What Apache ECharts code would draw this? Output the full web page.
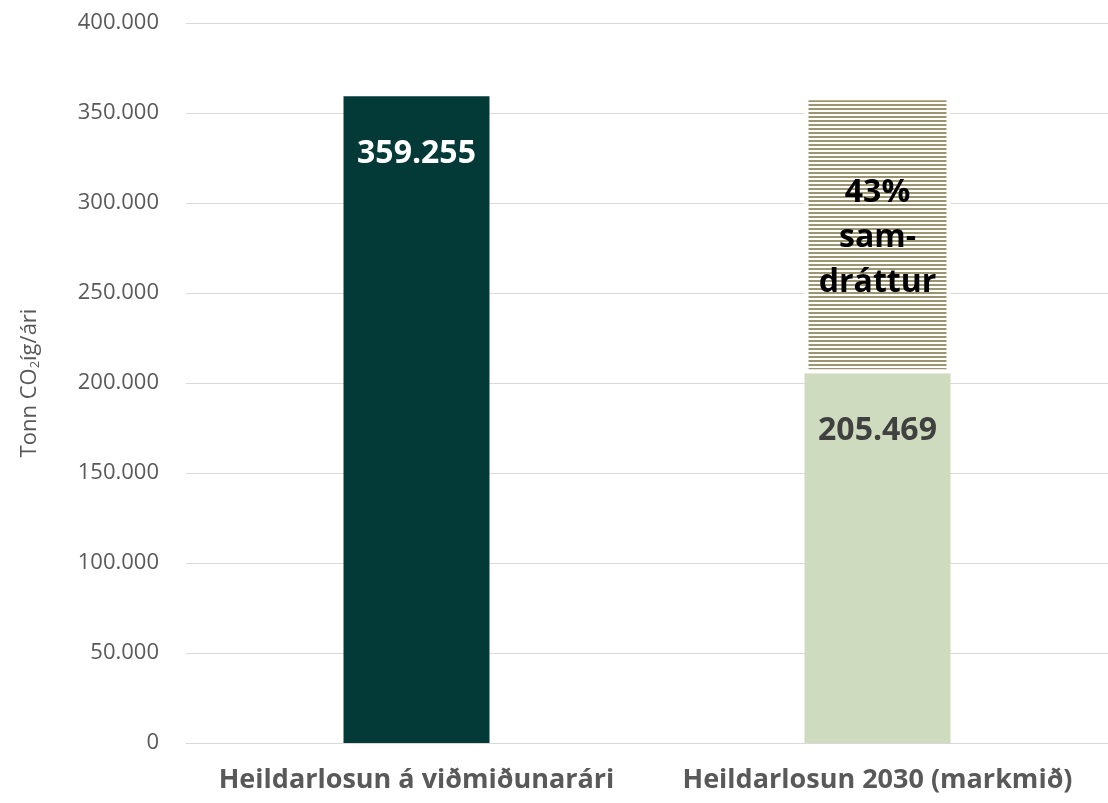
<!DOCTYPE html>
<html>
<head>
<meta charset="utf-8">
<script src="https://cdn.jsdelivr.net/npm/echarts@6/dist/echarts.min.js"></script>
<style>
  html, body { margin: 0; padding: 0; background: #fff; }
  #chart { width: 1108px; height: 803px; }
</style>
</head>
<body>
<div id="chart"></div>
<script>
const categories = ['Heildarlosun á viðmiðunarári', 'Heildarlosun 2030 (markmið)']
const baseValues = [359255, 205469]
const reductionValues = [null, 153786]
const reductionLabel = '43%\nsam-\ndráttur'
const yTicks = [0, 50000, 100000, 150000, 200000, 250000, 300000, 350000, 400000]

const FONT = '"Open Sans", "Noto Sans", sans-serif'

const fmt = (v) => v === 0 ? '0' : v.toLocaleString('de-DE')

// horizontal stripe fill for the reduction bar
const stripe = document.createElement('canvas')
stripe.width = 4
stripe.height = 4
const sctx = stripe.getContext('2d')
sctx.fillStyle = '#ffffff'
sctx.fillRect(0, 0, 4, 4)
sctx.fillStyle = '#9d9570'
sctx.fillRect(0, 0, 4, 2)

const chart = echarts.init(document.getElementById('chart'))
chart.setOption({
    animation: false,
    grid: {left: 186, top: 23, bottom: 60, right: -7},
    xAxis: {
        type: 'category',
        data: categories,
        axisLine: {show: true, lineStyle: {color: '#d9d9d9', width: 1}},
        axisTick: {show: false},
        axisLabel: {
            interval: 0,
            hideOverlap: false,
            color: '#595959', fontFamily: FONT, fontWeight: 'bold', fontSize: 27, margin: 24
        }
    },
    yAxis: {
        type: 'value',
        min: 0,
        max: yTicks[yTicks.length - 1],
        interval: 50000,
        name: '{n|Tonn CO}{s|2}{n|íg/ári}',
        nameLocation: 'middle',
        nameGap: 144,
        nameTextStyle: {
            rich: {
                n: {fontFamily: FONT, fontSize: 22, color: '#595959'},
                s: {fontFamily: FONT, fontSize: 13, color: '#595959', padding: [12, 0, 0, 0]}
            }
        },
        axisLine: {show: false},
        axisTick: {show: false},
        splitLine: {lineStyle: {color: '#d9d9d9', width: 1}},
        axisLabel: {
            color: '#595959', fontFamily: FONT, fontSize: 22, margin: 27,
            formatter: fmt
        }
    },
    series: [
        {
            type: 'bar',
            stack: 'total',
            barWidth: 146,
            data: baseValues.map((v, i) => ({
                value: v,
                itemStyle: {color: i === 0 ? '#033a38' : '#cfdbbe'},
                label: {color: i === 0 ? '#ffffff' : '#404040'}
            })),
            label: {
                show: true,
                position: 'insideTop',
                distance: 42,
                fontFamily: FONT,
                fontWeight: 'bold',
                fontSize: 32,
                formatter: (p) => fmt(p.value)
            }
        },
        {
            type: 'bar',
            stack: 'total',
            barWidth: 146,
            data: reductionValues,
            itemStyle: {
                color: {image: stripe, repeat: 'repeat'},
                borderColor: '#ffffff',
                borderWidth: 4
            },
            label: {
                show: true,
                position: 'inside',
                offset: [0, 3],
                color: '#000000',
                fontFamily: FONT,
                fontWeight: 'bold',
                fontSize: 32,
                lineHeight: 45,
                formatter: () => reductionLabel
            }
        }
    ]
})
</script>
</body>
</html>
